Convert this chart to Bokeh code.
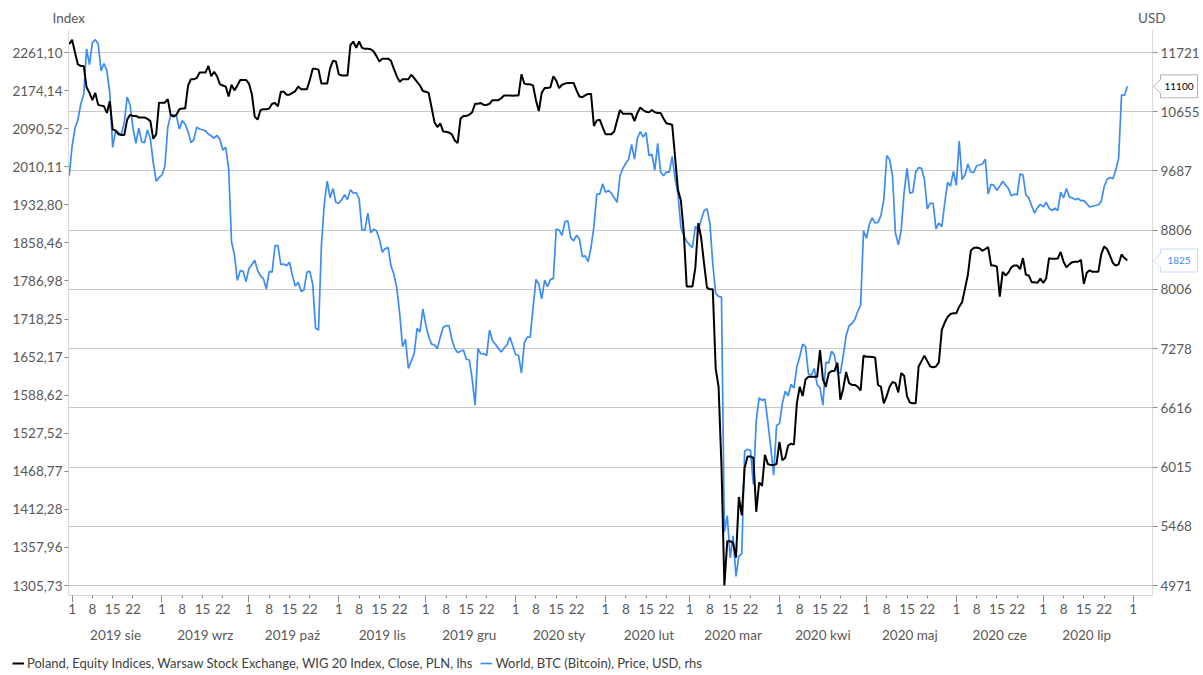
import math
import pandas as pd
from bokeh.plotting import figure
from bokeh.models import (Range1d, LogAxis, LogScale, LinearAxis, FixedTicker,
                          CustomJSTickFormatter, Grid, Legend, LegendItem, Label,
                          PolyAnnotation)
from bokeh.embed import file_html
from bokeh.resources import INLINE

# ---------------- data (daily, first day 2019-07-31) ----------------
start_date = "2019-07-31"

btc_usd = [
    9612, 10079, 10381, 10517, 10789, 10950, 11790, 11495, 11910, 11966, 11882, 11379, 11515, 11379, 10983, 10061,
    10332, 10308, 10271, 10474, 10911, 10770, 10381, 10127, 10381, 10151, 10139, 10350, 10199, 9813, 9528, 9584,
    9624, 9756, 10394, 10598, 10604, 10580, 10363, 10504, 10442, 10320, 10139, 10187, 10394, 10363, 10350, 10332,
    10283, 10247, 10211, 10259, 10187, 10019, 10061, 9728, 8641, 8464, 8121, 8251, 8242, 8106, 8280, 8330,
    8390, 8251, 8183, 8145, 8011, 8242, 8232, 8590, 8590, 8330, 8340, 8316, 8365, 8183, 8049, 8097,
    7978, 8002, 8232, 8242, 8073, 7519, 7498, 8590, 9196, 9528, 9277, 9416, 9207, 9196, 9250, 9322,
    9250, 9399, 9345, 9356, 9266, 8806, 8806, 9050, 8770, 8818, 8797, 8682, 8499, 8549, 8564, 8315,
    8203, 8025, 7699, 7300, 7387, 7049, 7133, 7218, 7519, 7475, 7759, 7564, 7418, 7330, 7321, 7278,
    7414, 7533, 7551, 7551, 7387, 7282, 7231, 7248, 7261, 7154, 7146, 6934, 6645, 7278, 7218, 7218,
    7197, 7498, 7373, 7330, 7282, 7239, 7282, 7321, 7414, 7312, 7210, 7197, 6996, 7347, 7414, 7414,
    7768, 8135, 8073, 7883, 8126, 8040, 8135, 8145, 8824, 8806, 8733, 8927, 8938, 8702, 8656, 8733,
    8682, 8439, 8449, 8371, 8564, 8860, 9332, 9332, 9487, 9361, 9388, 9345, 9277, 9210, 9612, 9728,
    9808, 9872, 10108, 9872, 10211, 10320, 10229, 10308, 9930, 9948, 9698, 10127, 9670, 9612, 9670, 9670,
    9918, 9567, 9332, 8849, 8728, 8651, 8600, 8564, 8860, 8806, 8954, 9087, 9114, 8910, 8340, 7954,
    7916, 7907, 5417, 5563, 5197, 5385, 5045, 5211, 5233, 6170, 6190, 6178, 5850, 6488, 6723, 6695,
    6711, 6467, 6206, 5937, 6431, 6450, 6664, 6796, 6747, 6871, 6830, 7070, 7185, 7330, 7300, 6987,
    6975, 7049, 6871, 6830, 6645, 7120, 7112, 7248, 7197, 7008, 6996, 7197, 7431, 7551, 7578, 7626,
    7728, 7804, 8796, 8692, 8891, 8981, 8910, 8916, 9014, 9250, 9930, 9866, 9612, 8770, 8600, 8806,
    9361, 9728, 9345, 9361, 9670, 9739, 9728, 9555, 9114, 9196, 9196, 8824, 8910, 8855, 9196, 9510,
    9453, 9681, 9464, 10163, 9555, 9624, 9796, 9670, 9658, 9768, 9780, 9796, 9872, 9332, 9481, 9464,
    9388, 9453, 9528, 9470, 9416, 9305, 9332, 9322, 9641, 9624, 9322, 9277, 9158, 9050, 9131, 9180,
    9141, 9210, 9126, 9087, 9126, 9087, 9361, 9277, 9416, 9288, 9277, 9250, 9266, 9234, 9234, 9190,
    9141, 9152, 9163, 9174, 9223, 9443, 9555, 9584, 9567, 9698, 9885, 10950, 10937, 11100,
]

wig20_pln = [
    2280.8, 2291.1, 2261.1, 2233.4, 2230.0, 2230.0, 2181.4, 2169.0, 2152.8, 2169.0, 2142.3, 2140.7, 2139.1, 2124.6, 2150.4, 2088.4,
    2086.8, 2078.3, 2076.7, 2076.7, 2110.0, 2120.5, 2118.1, 2118.1, 2114.9, 2114.9, 2114.9, 2111.7, 2106.8, 2068.9, 2078.3, 2147.2,
    2147.2, 2147.2, 2155.2, 2120.5, 2116.5, 2120.5, 2132.6, 2134.3, 2134.3, 2185.5, 2199.8, 2199.8, 2202.3, 2214.9, 2214.9, 2214.9,
    2230.0, 2206.5, 2216.6, 2206.5, 2188.1, 2185.5, 2183.0, 2160.9, 2187.2, 2174.6, 2185.5, 2198.1, 2198.1, 2198.1, 2189.8, 2166.6,
    2116.5, 2110.0, 2131.0, 2132.6, 2132.6, 2134.3, 2144.8, 2146.4, 2139.1, 2171.4, 2171.4, 2164.9, 2164.9, 2169.0, 2173.0, 2183.0,
    2177.2, 2177.2, 2177.2, 2198.1, 2223.3, 2223.3, 2221.6, 2189.8, 2189.8, 2189.8, 2225.0, 2241.8, 2240.1, 2210.7, 2208.2, 2208.2,
    2208.2, 2278.2, 2286.8, 2272.2, 2286.8, 2272.2, 2269.7, 2269.7, 2268.8, 2263.7, 2252.7, 2240.1, 2246.8, 2246.8, 2246.8, 2241.8,
    2223.3, 2206.5, 2193.9, 2199.8, 2199.8, 2199.8, 2209.9, 2202.3, 2193.9, 2185.5, 2173.0, 2171.4, 2169.0, 2136.7, 2104.4, 2093.9,
    2102.0, 2084.5, 2083.7, 2082.1, 2078.3, 2065.1, 2059.6, 2112.5, 2118.1, 2118.1, 2120.5, 2126.2, 2144.8, 2144.8, 2146.4, 2142.3,
    2142.3, 2144.8, 2152.8, 2152.8, 2152.8, 2156.9, 2163.3, 2163.3, 2163.3, 2162.5, 2163.3, 2163.3, 2210.7, 2189.8, 2188.1, 2188.1,
    2185.5, 2152.8, 2128.6, 2169.0, 2179.7, 2179.7, 2181.4, 2206.5, 2196.5, 2179.7, 2187.2, 2189.8, 2191.4, 2191.4, 2191.4, 2174.6,
    2160.9, 2159.3, 2163.3, 2166.6, 2166.6, 2096.3, 2108.4, 2110.0, 2093.9, 2078.3, 2078.3, 2078.3, 2084.5, 2108.4, 2131.0, 2123.0,
    2123.0, 2123.0, 2123.0, 2106.8, 2124.6, 2136.7, 2131.0, 2127.0, 2126.2, 2131.0, 2126.2, 2124.6, 2124.6, 2112.5, 2102.0, 2100.4,
    2098.8, 2030.1, 1962.2, 1941.3, 1878.5, 1776.8, 1776.8, 1776.8, 1812.2, 1896.5, 1867.8, 1819.1, 1774.8, 1771.5, 1771.5, 1633.0,
    1602.4, 1477.0, 1305.7, 1366.8, 1366.8, 1364.2, 1343.7, 1430.4, 1403.5, 1474.2, 1491.2, 1491.2, 1489.5, 1408.7, 1452.2, 1446.7,
    1494.0, 1479.9, 1478.2, 1478.2, 1479.9, 1513.9, 1485.5, 1489.5, 1508.2, 1511.1, 1509.9, 1575.3, 1602.4, 1587.1, 1614.6, 1618.9,
    1618.9, 1618.9, 1618.9, 1664.2, 1614.6, 1602.4, 1625.1, 1628.7, 1628.7, 1642.2, 1581.2, 1599.3, 1626.9, 1608.5, 1605.4, 1605.4,
    1602.4, 1596.2, 1654.6, 1652.7, 1652.7, 1652.1, 1651.4, 1605.4, 1602.4, 1575.3, 1587.1, 1602.4, 1610.3, 1608.5, 1593.2, 1625.1,
    1620.8, 1587.1, 1576.5, 1575.3, 1575.3, 1636.1, 1645.3, 1654.6, 1645.3, 1636.1, 1634.9, 1636.1, 1643.5, 1699.2, 1712.0, 1721.7,
    1727.0, 1728.3, 1728.3, 1740.3, 1748.2, 1772.8, 1798.4, 1843.3, 1848.8, 1849.5, 1848.1, 1843.3, 1846.7, 1850.2, 1815.7, 1815.7,
    1813.6, 1758.2, 1803.9, 1797.1, 1802.6, 1812.2, 1815.7, 1815.7, 1808.8, 1829.5, 1798.4, 1797.1, 1784.7, 1784.7, 1783.4, 1791.5,
    1783.4, 1791.5, 1829.5, 1828.1, 1828.1, 1828.8, 1841.2, 1822.6, 1812.2, 1817.8, 1821.9, 1822.6, 1822.6, 1826.0, 1781.4, 1801.9,
    1806.7, 1803.9, 1803.9, 1803.9, 1836.4, 1851.6, 1846.7, 1834.3, 1820.5, 1815.7, 1817.8, 1836.4, 1829.5, 1825.0,
]

wig_ticks = [1305.73, 1357.96, 1412.28, 1468.77, 1527.52, 1588.62, 1652.17, 1718.25,
             1786.98, 1858.46, 1932.80, 2010.11, 2090.52, 2174.14, 2261.10]
btc_ticks = [4971, 5468, 6015, 6616, 7278, 8006, 8806, 9687, 10655, 11721]
month_labels = ["2019 sie", "2019 wrz", "2019 paź", "2019 lis", "2019 gru", "2020 sty",
                "2020 lut", "2020 mar", "2020 kwi", "2020 maj", "2020 cze", "2020 lip"]
tick_days = [1, 8, 15, 22]
wig_name = "Poland, Equity Indices, Warsaw Stock Exchange, WIG 20 Index, Close, PLN, lhs"
btc_name = "World, BTC (Bitcoin), Price, USD, rhs"
wig_last = 1825
btc_last = 11100

# ---------------- layout geometry (pixels) ----------------
W, H = 1200, 672
FL, FT, FR, FB = 68, 29, 1152, 595      # visible plot box
Y_TOP_TICK, Y_BOT_TICK = 52, 585        # pixel rows of the extreme ticks
X_FIRST, PX_PER_DAY = 68.7, 2.899       # pixel of first data day, pixels per day

FONT = "Lato"
GRAY_TXT = "#595959"
AXIS_LINE = "#d9d9d9"
TICK_COL = "#8c8c8c"
BLUE = "#3b8cf4"


def ms(ts):
    return pd.Timestamp(ts).timestamp() * 1000.0


PX_MS = 86400000.0 / PX_PER_DAY
X_START = ms(start_date) - X_FIRST * PX_MS
l_px = math.log(wig_ticks[-1] / wig_ticks[0]) / (Y_BOT_TICK - Y_TOP_TICK)
r_px = math.log(btc_ticks[-1] / btc_ticks[0]) / (Y_BOT_TICK - Y_TOP_TICK)


def px_x(px):
    return X_START + px * PX_MS


def px_yl(py):
    return wig_ticks[-1] * math.exp((Y_TOP_TICK - py) * l_px)


def px_yr(py):
    return btc_ticks[-1] * math.exp((Y_TOP_TICK - py) * r_px)


dates = pd.date_range(start_date, periods=len(btc_usd), freq="D")
month_starts = pd.date_range("2019-08-01", "2020-08-01", freq="MS")
day_ticks = [ms(m + pd.Timedelta(days=d - 1)) for m in month_starts[:-1] for d in tick_days]
day_ticks.append(ms(month_starts[-1]))
month_ticks = [ms(m) for m in month_starts]
mid_ticks = [ms(m + pd.Timedelta(days=15)) for m in month_starts[:-1]]

p = figure(width=W, height=H, title=None, x_axis_type="datetime", y_axis_type="log",
           x_axis_location=None, y_axis_location=None,
           x_range=Range1d(px_x(0), px_x(W)), y_range=Range1d(px_yl(H), px_yl(0)),
           output_backend="svg", toolbar_location=None,
           min_border_left=0, min_border_right=0, min_border_top=0, min_border_bottom=0)
p.extra_y_ranges = {"btc": Range1d(px_yr(H), px_yr(0))}
p.extra_y_scales = {"btc": LogScale()}
p.outline_line_color = None
p.background_fill_color = "white"
p.border_fill_color = "white"
p.xgrid.visible = False
p.ygrid.visible = False

grid = Grid(dimension=1, ticker=FixedTicker(ticks=btc_ticks), y_range_name="btc",
            cross_bounds=(px_x(FL), px_x(FR)),
            grid_line_color="#c8c8c8", grid_line_width=1)
p.add_layout(grid)

r_btc = p.line(dates, btc_usd, y_range_name="btc", line_color=BLUE, line_width=1.7)
r_wig = p.line(dates, wig20_pln, line_color="black", line_width=2)


def style_axis(ax, size="13.5px"):
    ax.axis_line_color = AXIS_LINE
    ax.major_tick_line_color = TICK_COL
    ax.minor_tick_line_color = None
    ax.major_tick_in = 0
    ax.minor_tick_in = 0
    ax.major_label_text_font = FONT
    ax.major_label_text_font_size = size
    ax.major_label_text_color = GRAY_TXT


# left axis (WIG 20)
lax = LogAxis(ticker=FixedTicker(ticks=wig_ticks),
              formatter=CustomJSTickFormatter(code="return tick.toFixed(2).replace('.', ',');"),
              fixed_location=px_x(FL), bounds=(px_yl(FB), px_yl(FT)))
style_axis(lax)
lax.major_tick_out = 4
lax.major_label_standoff = 2
p.add_layout(lax, "left")

# right axis (BTC)
rax = LogAxis(y_range_name="btc", ticker=FixedTicker(ticks=btc_ticks),
              formatter=CustomJSTickFormatter(code="return tick.toFixed(0);"),
              fixed_location=px_x(FR), bounds=(px_yr(FB), px_yr(FT)))
style_axis(rax)
rax.major_tick_out = 5
rax.major_label_standoff = 3
p.add_layout(rax, "right")

# bottom day axis
xax = LinearAxis(ticker=FixedTicker(ticks=day_ticks, minor_ticks=month_ticks),
                 formatter=CustomJSTickFormatter(code="return String(new Date(tick).getUTCDate());"),
                 fixed_location=px_yl(FB), bounds=(px_x(FL), px_x(FR)))
style_axis(xax)
xax.minor_tick_line_color = TICK_COL
xax.major_tick_out = 3
xax.minor_tick_out = 7
xax.major_label_standoff = 1
p.add_layout(xax, "below")

# month axis
max_ = LinearAxis(ticker=FixedTicker(ticks=mid_ticks),
                  formatter=CustomJSTickFormatter(
                      args=dict(mids=mid_ticks, names=month_labels),
                      code="""
let best = 0, bd = Infinity;
for (let i = 0; i < mids.length; i++) {
  const d = Math.abs(mids[i] - tick);
  if (d < bd) { bd = d; best = i; }
}
return names[best];
"""),
                  fixed_location=px_yl(FB))
style_axis(max_)
max_.axis_line_color = None
max_.major_tick_line_color = None
max_.major_tick_out = 0
max_.minor_tick_out = 0
max_.major_label_standoff = 31
p.add_layout(max_, "below")

# axis titles (above the plot box)
p.add_layout(Label(x=px_x(52), y=px_yl(17), text="Index", text_align="left",
                   text_baseline="middle", text_font=FONT, text_font_size="13.5px",
                   text_color=GRAY_TXT))
p.add_layout(Label(x=px_x(1165), y=px_yl(17), text="USD", text_align="right",
                   text_baseline="middle", text_font=FONT, text_font_size="13.5px",
                   text_color=GRAY_TXT))

# value callouts at the right edge (last values of each series)
tip, bl, br = px_x(FR + 1), px_x(FR + 8), px_x(FR + 45)
for val, anchor, unit, col in [(btc_last, btc_ticks[-1], r_px, "black"),
                               (wig_last, wig_ticks[-1], l_px, BLUE)]:
    pyc = Y_TOP_TICK - math.log(val / anchor) / unit     # pixel row of the value
    ys = [px_yl(pyc), px_yl(pyc - 7), px_yl(pyc - 11.5), px_yl(pyc - 11.5),
          px_yl(pyc + 11.5), px_yl(pyc + 11.5), px_yl(pyc + 7)]
    p.add_layout(PolyAnnotation(xs=[tip, bl, bl, br, br, bl, bl], ys=ys,
                                fill_color="white", fill_alpha=1.0,
                                line_color=col, line_width=1))
    p.add_layout(Label(x=(bl + br) / 2, y=px_yl(pyc), text=str(val),
                       text_align="center", text_baseline="middle", text_font=FONT,
                       text_font_size="10px", text_color=col))

legend = Legend(items=[LegendItem(label=wig_name, renderers=[r_wig]),
                       LegendItem(label=btc_name, renderers=[r_btc])],
                orientation="horizontal", location=(12, H - 671),
                background_fill_alpha=0, border_line_color=None,
                padding=0, margin=0, spacing=8, glyph_width=12, glyph_height=14,
                label_standoff=3, label_text_font=FONT,
                label_text_font_size="13px", label_text_color="#404040")
p.add_layout(legend)

open("out.html", "w").write(file_html(p, INLINE))
